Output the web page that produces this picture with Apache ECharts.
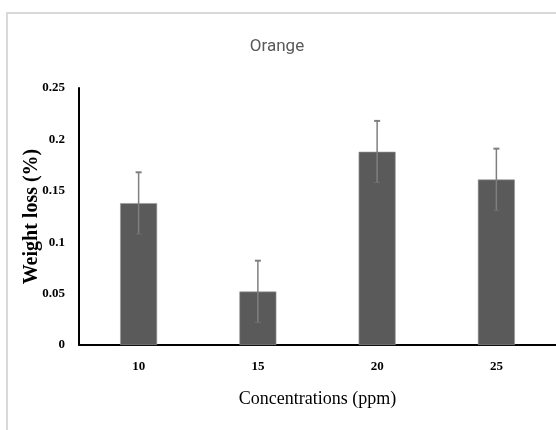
<!DOCTYPE html>
<html>
<head>
<meta charset="utf-8">
<script src="https://cdn.jsdelivr.net/npm/echarts@6/dist/echarts.min.js"></script>
<style>
html,body{margin:0;padding:0;background:#fff;}
#chart{width:556px;height:430px;}
</style>
</head>
<body>
<div id="chart"></div>
<script>
var categories = ['10', '15', '20', '25'];
var weightLoss = [0.138, 0.052, 0.188, 0.161];
var errors = [0.03, 0.03, 0.03, 0.03];
var yTicks = { min: 0, max: 0.25, interval: 0.05 };

var chart = echarts.init(document.getElementById('chart'));
var serif = '"Liberation Serif", "DejaVu Serif", serif';

var errData = weightLoss.map(function (v, i) { return [i, v - errors[i], v + errors[i]]; });

chart.setOption({
  animation: false,
  backgroundColor: '#fff',
  graphic: [{
    type: 'rect',
    shape: { x: 7, y: 13, width: 600, height: 480 },
    style: { fill: 'none', stroke: '#d9d9d9', lineWidth: 2 },
    silent: true
  }],
  title: {
    text: 'Orange',
    left: 272,
    top: 33,
    textAlign: 'center',
    textStyle: { fontFamily: 'Roboto, sans-serif', fontWeight: 'normal', fontSize: 17, color: '#595959' }
  },
  grid: { left: 79, top: 88, right: 0, bottom: 85, containLabel: false },
  xAxis: {
    type: 'category',
    data: categories,
    axisLine: { lineStyle: { color: '#000', width: 2 } },
    axisTick: { show: false },
    axisLabel: { margin: 15, fontFamily: serif, fontWeight: 'bold', fontSize: 13, color: '#000' },
    name: 'Concentrations (ppm)',
    nameLocation: 'middle',
    nameGap: 45,
    nameMoveOverlap: false,
    nameTextStyle: { fontFamily: serif, fontSize: 18, color: '#000' }
  },
  yAxis: {
    type: 'value',
    min: yTicks.min,
    max: yTicks.max,
    interval: yTicks.interval,
    axisLine: { show: true, lineStyle: { color: '#000', width: 2 } },
    axisTick: { show: false },
    splitLine: { show: false },
    axisLabel: { margin: 14, fontFamily: serif, fontWeight: 'bold', fontSize: 13, color: '#000' },
    name: 'Weight loss (%)',
    nameLocation: 'middle',
    nameGap: 37,
    nameMoveOverlap: false,
    nameTextStyle: { fontFamily: serif, fontWeight: 'bold', fontSize: 20, color: '#000' }
  },
  series: [{
    type: 'bar',
    data: weightLoss,
    barWidth: 37,
    itemStyle: { color: '#5a5a5a', borderColor: '#9a9a9a', borderWidth: 0.6 }
  }, {
    type: 'custom',
    data: errData,
    z: 10,
    renderItem: function (params, api) {
      var x = api.value(0);
      var lo = api.coord([x, api.value(1)]);
      var hi = api.coord([x, api.value(2)]);
      var c = '#7f7f7f';
      var hw = 3;
      return {
        type: 'group',
        children: [
          { type: 'line', shape: { x1: hi[0], y1: hi[1], x2: lo[0], y2: lo[1] }, style: { stroke: c, lineWidth: 1.5 } },
          { type: 'line', shape: { x1: hi[0] - hw, y1: hi[1], x2: hi[0] + hw, y2: hi[1] }, style: { stroke: c, lineWidth: 2 } },
          { type: 'line', shape: { x1: lo[0] - hw, y1: lo[1], x2: lo[0] + hw, y2: lo[1] }, style: { stroke: '#6e6e6e', lineWidth: 1 } }
        ]
      };
    }
  }]
});
</script>
</body>
</html>
